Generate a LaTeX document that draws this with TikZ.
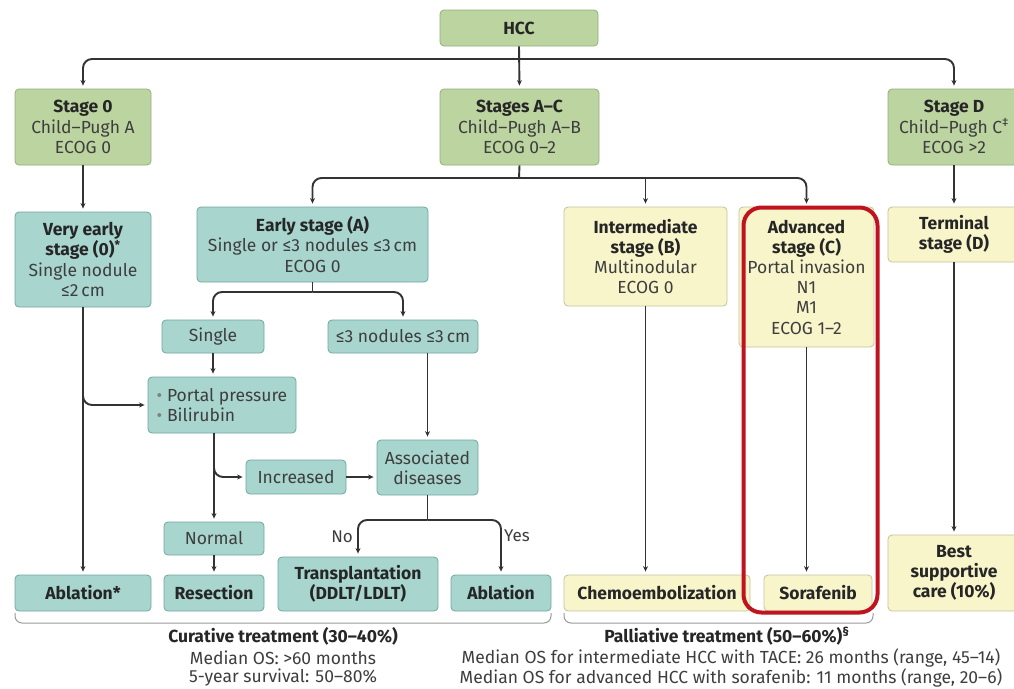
\documentclass[tikz,border=0pt]{standalone}
\usepackage{fontspec}
\setmainfont{Fira Sans}
\usetikzlibrary{arrows.meta,calc}
\definecolor{gfill}{HTML}{BCD5A0}
\definecolor{gdraw}{HTML}{93AF7C}
\definecolor{tfill}{HTML}{A8D6CF}
\definecolor{tdraw}{HTML}{6FA79F}
\definecolor{yfill}{HTML}{F8F5CB}
\definecolor{ydraw}{HTML}{C5C2A2}
\definecolor{txtdark}{HTML}{262626}
\definecolor{txtreg}{HTML}{3E3E3E}
\definecolor{linec}{HTML}{333333}
\definecolor{redc}{HTML}{BF1420}
\definecolor{brc}{HTML}{9A9A9A}
\newcommand\hd[1]{{\bfseries\color{txtdark}#1}}
\begin{document}
\begin{tikzpicture}[x=1pt,y=-1pt,
  box/.style={draw, rounded corners=4pt, align=center, inner sep=1pt, line width=0.8pt,
    text=txtreg, font=\fontsize{17.5}{20.2}\selectfont},
  gbox/.style={box, fill=gfill, draw=gdraw},
  tbox/.style={box, fill=tfill, draw=tdraw},
  ybox/.style={box, fill=yfill, draw=ydraw},
  conn/.style={line width=1.9pt, draw=linec},
  arr/.style={conn, -{Stealth[length=5.5pt,width=5pt]}, shorten >=3pt},
  rc/.style={rounded corners=9pt},
  lab/.style={text=txtreg, font=\fontsize{17}{19}\selectfont, inner sep=1pt},
  foot/.style={text=txtreg, font=\fontsize{17.5}{20}\selectfont, inner sep=0pt, anchor=center}
]
\useasboundingbox (0,0) rectangle (1014,688);
\fill[white] (0,0) rectangle (1014,688);

% row 1
\node[gbox, minimum width=158pt, minimum height=36pt] (hcc) at (519,28) {\hd{HCC}};
\node[gbox, minimum width=136pt, minimum height=76pt] (s0) at (83,127) {\hd{Stage 0}\\Child–Pugh A\\ECOG 0};
\node[gbox, minimum width=159pt, minimum height=76pt] (sac) at (519.5,127) {\hd{Stages A–C}\\Child–Pugh A–B\\ECOG 0–2};
\node[gbox, minimum width=132pt, minimum height=76pt] (sd) at (954,127) {\hd{Stage D}\\Child–Pugh C\textsuperscript{‡}\\ECOG >2};

% row 2
\node[tbox, minimum width=136pt, minimum height=95pt] (ve) at (83,259.5) {\hd{Very early}\\\hd{stage (0)\textsuperscript{*}}\\Single nodule\\≤2\,cm};
\node[tbox, minimum width=231pt, minimum height=75pt] (ea) at (312.5,244.5) {\hd{Early stage (A)}\\Single or ≤3 nodules ≤3\,cm\\ECOG 0};
\node[ybox, minimum width=163pt, minimum height=99pt] (ib) at (645.5,256.5) {\hd{Intermediate}\\\hd{stage (B)}\\Multinodular\\ECOG 0};
\node[ybox, minimum width=135pt, minimum height=140pt] (ac) at (806.5,277) {\hd{Advanced}\\\hd{stage (C)}\\Portal invasion\\N1\\M1\\ECOG 1–2};
\node[ybox, minimum width=132pt, minimum height=55pt] (td) at (954,234.5) {\hd{Terminal}\\\hd{stage (D)}};

% early stage branch
\node[tbox, minimum width=102pt, minimum height=33pt] (single) at (213,336.5) {Single};
\node[tbox, minimum width=150pt, minimum height=33pt] (n3) at (403,336.5) {≤3 nodules ≤3\,cm};
\node[tbox, minimum width=148pt, minimum height=56pt, align=left] (pp) at (222,405) {{\color{gray}\textbullet} Portal pressure\\{\color{gray}\textbullet} Bilirubin};
\node[tbox, minimum width=100pt, minimum height=34pt] (inc) at (296,477) {Increased};
\node[tbox, minimum width=101pt, minimum height=55pt] (ad) at (427.5,467.5) {Associated\\diseases};
\node[tbox, minimum width=100pt, minimum height=33pt] (normal) at (214,538.5) {Normal};

% bottom row
\node[tbox, minimum width=136pt, minimum height=36pt] (abl1) at (83,593) {\hd{Ablation*}};
\node[tbox, minimum width=100pt, minimum height=36pt] (res) at (214,593) {\hd{Resection}};
\node[tbox, minimum width=160pt, minimum height=54pt] (tr) at (358,584) {\hd{Transplantation}\\\hd{(DDLT/LDLT)}};
\node[tbox, minimum width=100pt, minimum height=36pt] (abl2) at (501,593) {\hd{Ablation}};
\node[ybox, minimum width=186pt, minimum height=36pt] (chemo) at (657,593) {\hd{Chemoembolization}};
\node[ybox, minimum width=108pt, minimum height=36pt] (sora) at (818,593) {\hd{Sorafenib}};
\node[ybox, minimum width=132pt, minimum height=76pt] (bsc) at (954,573) {\hd{Best}\\\hd{supportive}\\\hd{care (10\%)}};

% junction coordinates
\coordinate (j1) at (519,59);
\coordinate (j2) at (519,178);
\coordinate (j3) at (312.5,292);
\coordinate (j4) at (83,390);
\coordinate (j5) at (214,463);
\coordinate (j6) at (427.5,520);

% connectors
\draw[arr] (hcc.south) -- (sac.north);
\draw[arr, rc] (j1) -| (s0.north);
\draw[arr, rc] (j1) -| (sd.north);
\draw[arr] (s0.south) -- (ve.north);
\draw[arr] (sd.south) -- (td.north);
\draw[conn] (sac.south) -- (j2);
\draw[arr, rc] (j2) -| (ea.north);
\draw[arr, rc] (j2) -| (ac.north);
\draw[arr] (j2 -| ib.north) -- (ib.north);
\draw[conn] (ea.south) -- (j3);
\draw[arr, rc] (j3) -| (single.north);
\draw[arr, rc] (j3) -| (n3.north);
\draw[arr] (single.south) -- (single.south |- pp.north);
\draw[arr] (ve.south) -- (abl1.north);
\draw[arr, rc] (j4) |- (pp.west);
\draw[arr] (normal.north |- pp.south) -- (normal.north);
\draw[arr, rc] (j5) |- (inc.west);
\draw[arr] (inc.east) -- (inc.east -| ad.west);
\draw[arr] (ad.north |- n3.south) -- (ad.north);
\draw[conn] (ad.south) -- (j6);
\draw[arr, rc] (j6) -| (tr.north);
\draw[arr, rc] (j6) -| (abl2.north);
\node[lab, anchor=east] (no) at (354,537) {No};
\node[lab, anchor=west] (yes) at (503,536) {Yes};
\draw[arr] (normal.south) -- (res.north);
\draw[arr] (ib.south) -- (ib.south |- chemo.north);
\draw[arr] (ac.south) -- (ac.south |- sora.north);
\draw[arr] (td.south) -- (bsc.north);

% highlight
\node[draw=redc, line width=4pt, rounded corners=18pt, minimum width=134pt, minimum height=405pt, inner sep=0pt] (hl) at (810.5,410) {};

% brackets
\draw[brc, line width=1pt, rounded corners=7pt] (15,613) -- (15,623) -- (551,623) -- (551,613);
\draw[brc, line width=1pt, rounded corners=7pt] (564,613) -- (564,623) -- (873,623) -- (873,613);

% footer texts
\node[foot] (cur) at (283,636) {\hd{Curative treatment (30–40\%)}};
\node[foot] (cur1) at (283,658) {Median OS: >60 months};
\node[foot] (cur2) at (283,678) {5-year survival: 50–80\%};
\node[foot] (pal) at (727,636) {\hd{Palliative treatment (50–60\%)\textsuperscript{§}}};
\node[foot] (pal1) at (731,658) {Median OS for intermediate HCC with TACE: 26 months (range, 45–14)};
\node[foot] (pal2) at (731,678) {Median OS for advanced HCC with sorafenib: 11 months (range, 20–6)};
\end{tikzpicture}
\end{document}
